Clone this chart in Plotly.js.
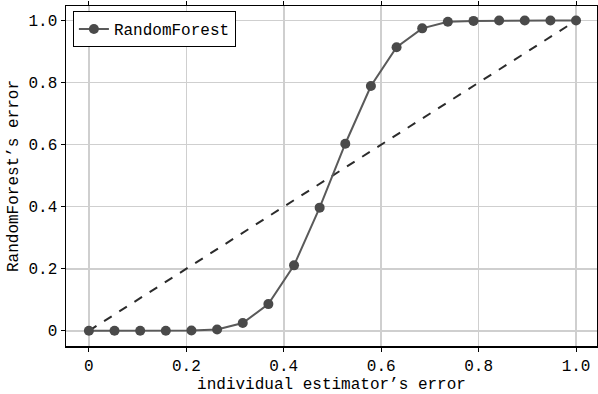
<!DOCTYPE html>
<html><head><meta charset="utf-8">
<script src="https://cdn.plot.ly/plotly-3.0.1.min.js"></script>
<style>html,body{margin:0;padding:0;background:#fff;}#chart{width:598px;height:394px;}</style>
</head><body><div id="chart"></div>
<script>
const estimatorError = [0, 0.0526, 0.1053, 0.1579, 0.2105, 0.2632, 0.3158, 0.3684, 0.4211, 0.4737, 0.5263, 0.5789, 0.6316, 0.6842, 0.7368, 0.7895, 0.8421, 0.8947, 0.9474, 1.0];
const forestError = [0, 0, 0, 0, 0.001, 0.004, 0.025, 0.086, 0.211, 0.397, 0.603, 0.789, 0.914, 0.975, 0.996, 0.999, 1.0, 1.0, 1.0, 1.0];
const diagX = [0, 1];
const diagY = [0, 1];
const tickVals = [0, 0.2, 0.4, 0.6, 0.8, 1.0];
const tickLabels = ["0", "0.2", "0.4", "0.6", "0.8", "1.0"];

const font = "Liberation Mono, DejaVu Sans Mono, monospace";
const traces = [
  {x: diagX, y: diagY, mode: 'lines', showlegend: false,
   line: {color: '#2b2b2b', width: 2, dash: 'dash'}},
  {x: estimatorError, y: forestError, mode: 'lines+markers', name: 'RandomForest',
   line: {color: '#5a5a5a', width: 2}, marker: {color: '#4a4a4a', size: 10}}
];
const axisCommon = {
  showline: true, linecolor: '#000', linewidth: 1.5, mirror: 'ticks',
  ticks: 'outside', ticklen: 4, tickcolor: '#000', tickwidth: 1,
  showgrid: true, gridcolor: '#cfcfcf', gridwidth: 1.5, zeroline: false,
  tickfont: {family: font, size: 16, color: '#000'},
  tickvals: tickVals, ticktext: tickLabels
};
const layout = {
  width: 598, height: 394,
  margin: {l: 66, r: 1, t: 6, b: 48},
  paper_bgcolor: '#fff', plot_bgcolor: '#fff',
  font: {family: font, size: 16, color: '#000'},
  xaxis: Object.assign({}, axisCommon, {range: [-0.047, 1.043],
    title: {text: "individual estimator’s error", font: {family: font, size: 16, color: '#000'}, standoff: 2}}),
  yaxis: Object.assign({}, axisCommon, {range: [-0.049, 1.047],
    title: {text: "RandomForest’s error", font: {family: font, size: 16, color: '#000'}, standoff: 6}}),
  legend: {x: 0.013, y: 0.985, xanchor: 'left', yanchor: 'top',
    bgcolor: '#fff', bordercolor: '#000', borderwidth: 1,
    font: {family: font, size: 16, color: '#000'}, itemwidth: 30,
    tracegroupgap: 0}
};
Plotly.newPlot('chart', traces, layout, {displayModeBar: false, staticPlot: true});
</script></body></html>
